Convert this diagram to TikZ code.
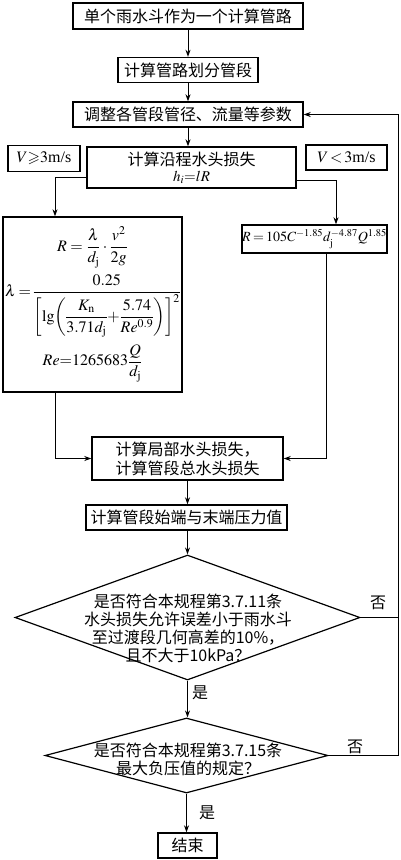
\documentclass[tikz,border=0pt]{standalone}
\usepackage{amsmath,amssymb}
\usepackage{mathptmx}
\usepackage{fontspec}
\setmainfont{Liberation Serif}
\newfontfamily\cjk{Noto Sans CJK SC}
\usetikzlibrary{shapes.geometric,arrows.meta,calc}
\begin{document}
\begin{tikzpicture}[x=1pt,y=-1pt,
  box/.style={draw,line width=1.4pt,inner sep=0pt,align=center,font=\cjk\fontsize{16}{19}\selectfont},
  fbox/.style={draw,line width=1.4pt,inner sep=0pt,align=center,font=\fontsize{15}{18}\selectfont},
  dia/.style={draw,line width=1.2pt,diamond,inner sep=0pt},
  dtext/.style={align=center,inner sep=0pt,font=\cjk\fontsize{16}{18}\selectfont},
  lab/.style={inner sep=0pt,font=\cjk\fontsize{16}{18}\selectfont},
  arr/.style={line width=0.9pt,-{Stealth[length=7pt,width=5pt]}},
  ln/.style={line width=0.9pt}]
\useasboundingbox (0,0) rectangle (400,860);
\fill[white] (0,0) rectangle (400,860);

\node[box,minimum width=230,minimum height=26] (b1) at (188,16) {单个雨水斗作为一个计算管路};
\node[box,minimum width=140,minimum height=25] (b2) at (188,70) {计算管路划分管段};
\node[box,minimum width=230,minimum height=25] (b3) at (188,114.5) {调整各管段管径、流量等参数};
\node[box,minimum width=209,minimum height=41] (b4) at (191.5,167.5) {计算沿程水头损失\\[-3pt]{\fontsize{15}{16}\selectfont$h_i{=}lR$}};
\node[fbox,minimum width=72,minimum height=26,font=\fontsize{16}{18}\selectfont] (vge) at (44,158.5) {$V{\geqslant}3$m/s};
\node[fbox,minimum width=81,minimum height=25,font=\fontsize{16}{18}\selectfont] (vlt) at (346.5,157.5) {$V\,{<}\,3$m/s};
\node[fbox,minimum width=179,minimum height=175,font=\fontsize{16}{19}\selectfont] (f1) at (92.5,304.5) {%
$\displaystyle R=\frac{\lambda}{d_{\mathrm{j}}}\cdot\frac{v^2}{2g}$\\[6pt]
{\medmuskip=1mu\thickmuskip=3mu\nulldelimiterspace=0pt$\displaystyle \lambda=\frac{0.25}{\left[\lg\!\left(\dfrac{K_{\mathrm{n}}}{3.71d_{\mathrm{j}}}+\dfrac{5.74}{Re^{0.9}}\right)\right]^2}$}\\[6pt]
$\displaystyle Re{=}1265683\frac{Q}{d_{\mathrm{j}}}$};
\node[fbox,minimum width=145,minimum height=28,font=\fontsize{14}{17}\selectfont] (f2) at (314.5,239) {\thickmuskip=3mu$R=105C^{-1.85}d_{\mathrm{j}}^{-4.87}Q^{1.85}$};
\node[box,minimum width=191,minimum height=43] (b5) at (187.5,458.5) {计算局部水头损失，\\计算管段总水头损失};
\node[box,minimum width=201,minimum height=25] (b6) at (186.5,517.5) {计算管段始端与末端压力值};
\node[dia,minimum width=345,minimum height=125] (d1) at (187.5,617.5) {};
\node[dtext] (t1) at (188,628) {是否符合本规程第3.7.11条\\水头损失允许误差小于雨水斗\\至过渡段几何高差的10\%，\\且不大于10kPa？};
\node[dia,minimum width=283,minimum height=75] (d2) at (186.5,755.5) {};
\node[dtext] (t2) at (188,759) {是否符合本规程第3.7.15条\\最大负压值的规定？};
\node[box,minimum width=59,minimum height=25] (e) at (187.5,845.5) {结束};

\node[lab] (no1) at (378,603) {否};
\node[lab] (yes1) at (200,693) {是};
\node[lab] (no2) at (355,747) {否};
\node[lab] (yes2) at (207,813) {是};

\draw[arr] (b1.south) -- (b1.south |- b2.north);
\draw[arr] (b2.south) -- (b2.south |- b3.north);
\draw[arr] (b3.south) -- (b3.south |- b4.north);
\draw[arr] ([yshift=-9.5pt]b4.west) -| ([xshift=-37.5pt]f1.north);
\draw[arr] ([yshift=-12.5pt]b4.east) -| ([xshift=21.5pt]f2.north);
\draw[arr] ([xshift=-37.5pt]f1.south) |- (b5.west);
\draw[arr] ([xshift=11.5pt]f2.south) |- (b5.east);
\draw[arr] (b5.south) -- (b5.south |- b6.north);
\draw[arr] (b6.south -| d1.north) -- (d1.north);
\draw[arr] (d1.south) -- (d1.south |- d2.north);
\draw[arr] (d2.south) -- (d2.south |- e.north);
\draw[arr] (d1.east) -- ++(38,0) coordinate (r1) |- (b3.east);
\draw[ln] (d2.east) -| (r1);
\end{tikzpicture}
\end{document}
